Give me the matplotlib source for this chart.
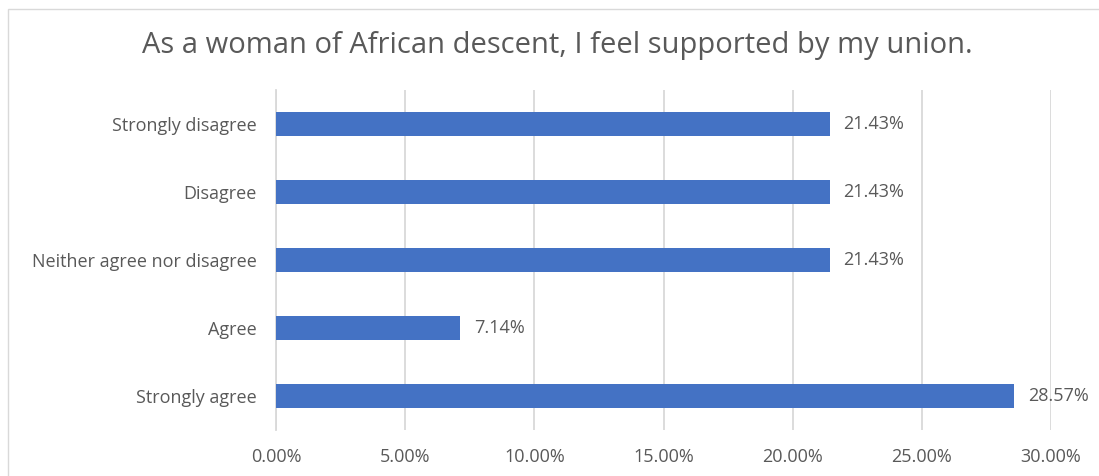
import matplotlib.pyplot as plt
from matplotlib.patches import Rectangle
from matplotlib.ticker import FuncFormatter

categories = ['Strongly agree', 'Agree', 'Neither agree nor disagree', 'Disagree', 'Strongly disagree']
values = [28.57, 7.14, 21.43, 21.43, 21.43]
ticks = [0, 5, 10, 15, 20, 25, 30]

plt.rcParams['font.family'] = ['Open Sans', 'DejaVu Sans']
textCol = '#595959'

fig = plt.figure(figsize=(10.99, 4.76), dpi=100)
# chart area border (runs off the right/bottom edge in the original)
fig.patches.append(Rectangle((8/1099, -0.1), 1.2, 1.1 - 9/476, transform=fig.transFigure,
                             fill=False, edgecolor='#d9d9d9', linewidth=1.0))
ax = fig.add_axes([276/1099, 46/476, 775/1099, 340/476])

y = range(len(categories))
ax.barh(y, values, height=0.35, color='#4472C4', zorder=3)
for i, v in enumerate(values):
    ax.annotate('%.2f%%' % v, (v, i), xytext=(10, 0), textcoords='offset points',
                va='center', ha='left', fontsize=13, color=textCol)

ax.set_xlim(0, 30)
ax.set_ylim(-0.5, len(categories) - 0.5)
ax.set_xticks(ticks)
ax.xaxis.set_major_formatter(FuncFormatter(lambda x, p: '%.2f%%' % x))
ax.set_yticks(list(y))
ax.set_yticklabels(categories)
ax.tick_params(axis='both', length=0, labelsize=13, labelcolor=textCol)
ax.tick_params(axis='x', pad=13)
ax.tick_params(axis='y', pad=14)
ax.grid(axis='x', color='#d9d9d9', linewidth=1.3, zorder=0)
for s in ['top', 'right', 'bottom']:
    ax.spines[s].set_visible(False)
ax.spines['left'].set_color('#d9d9d9')
ax.spines['left'].set_linewidth(1.3)

fig.text(557/1099, 1 - 45/476, 'As a woman of African descent, I feel supported by my union.',
         ha='center', va='center', fontsize=21, color=textCol)

plt.savefig('out.png', dpi=100)
